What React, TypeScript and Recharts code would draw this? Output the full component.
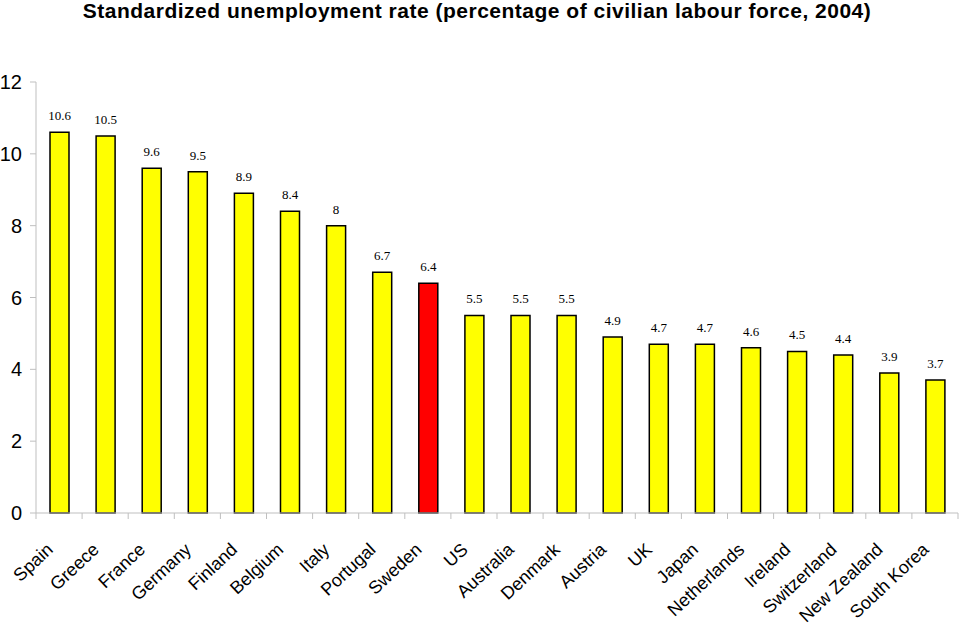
import { BarChart, Bar, XAxis, YAxis, Cell, LabelList } from 'recharts';

const countries = [
    'Spain', 'Greece', 'France', 'Germany', 'Finland', 'Belgium', 'Italy',
    'Portugal', 'Sweden', 'US', 'Australia', 'Denmark', 'Austria', 'UK',
    'Japan', 'Netherlands', 'Ireland', 'Switzerland', 'New Zealand', 'South Korea',
];

const rates = [
    10.6, 10.5, 9.6, 9.5, 8.9, 8.4, 8, 6.7, 6.4, 5.5, 5.5, 5.5, 4.9, 4.7, 4.7,
    4.6, 4.5, 4.4, 3.9, 3.7,
];

const yTicks = [0, 2, 4, 6, 8, 10, 12];

const highlight = 'Sweden';

const data = countries.map((name, i) => ({ name, rate: rates[i] }));

const band = (958 - 36) / countries.length;

const CountryTick = (props: any) => {
    const { x, y, payload, index } = props;
    const isLast = index === countries.length - 1;
    const ax = x - 5;
    const ay = y + 30;
    return (
        <g>
            <line x1={x - band / 2} y1={y - 8} x2={x - band / 2} y2={y - 2} stroke="#bfbfbf" />
            {isLast && (
                <line x1={x + band / 2} y1={y - 8} x2={x + band / 2} y2={y - 2} stroke="#bfbfbf" />
            )}
            <text
                x={ax}
                y={ay}
                transform={`rotate(-43, ${ax}, ${ay})`}
                textAnchor="end"
                fontFamily="Liberation Sans, Arial, sans-serif"
                fontSize={18}
                fill="#000"
            >
                {payload.value}
            </text>
        </g>
    );
};

const App = () => {
    return (
        <div style={{ position: 'absolute', left: 0, top: 0, width: 960, height: 637, background: '#fff' }}>
            <div
                style={{
                    position: 'absolute',
                    top: 0,
                    left: 0,
                    width: 954,
                    textAlign: 'center',
                    fontFamily: 'Liberation Sans, Arial, sans-serif',
                    fontWeight: 'bold',
                    fontSize: 21,
                    letterSpacing: 0.5,
                    lineHeight: '22px',
                    whiteSpace: 'nowrap',
                }}
            >
                Standardized unemployment rate (percentage of civilian labour force, 2004)
            </div>
            <BarChart
                width={960}
                height={637}
                data={data}
                margin={{ top: 82, right: 2, left: 0, bottom: 0 }}
                barCategoryGap={0}
            >
                <YAxis
                    width={36}
                    domain={[0, 12]}
                    ticks={yTicks}
                    interval={0}
                    axisLine={{ stroke: '#bfbfbf' }}
                    tickLine={{ stroke: '#bfbfbf' }}
                    tickSize={6}
                    tickMargin={8}
                    tick={{ fill: '#000', fontSize: 20, fontFamily: 'Liberation Sans, Arial, sans-serif' }}
                />
                <XAxis
                    dataKey="name"
                    height={124}
                    interval={0}
                    axisLine={{ stroke: '#bfbfbf' }}
                    tickLine={false}
                    tick={<CountryTick />}
                />
                <Bar dataKey="rate" barSize={19} stroke="#000" strokeWidth={1.5} isAnimationActive={false}>
                    {data.map((d) => (
                        <Cell key={d.name} fill={d.name === highlight ? '#ff0000' : '#ffff00'} />
                    ))}
                    <LabelList
                        dataKey="rate"
                        position="top"
                        offset={12}
                        fill="#000"
                        fontSize={13}
                        fontFamily="Liberation Serif, Times New Roman, serif"
                    />
                </Bar>
            </BarChart>
        </div>
    );
};

export default App;
